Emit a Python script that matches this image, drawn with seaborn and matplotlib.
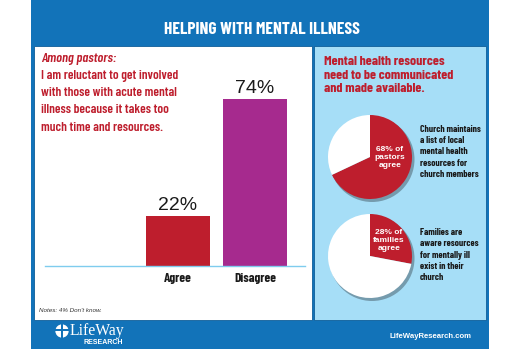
import matplotlib
matplotlib.use("Agg")
import matplotlib.pyplot as plt
from matplotlib import font_manager
from matplotlib.patches import Rectangle, Circle
import seaborn as sns
import pandas as pd

# ---- data ----
title = "HELPING WITH MENTAL ILLNESS"
bar_categories = ["Agree", "Disagree"]
bar_values = [22, 74]
bar_colors = ["#BE1E2D", "#A62A8E"]

pie_values = [68, 28]
pie_labels = ["68% of\npastors\nagree", "28% of\nfamilies\nagree"]
pie_captions = ["Church maintains\na list of local\nmental health\nresources for\nchurch members",
                "Families are\naware resources\nfor mentally ill\nexist in their\nchurch"]

question_intro = "Among pastors:"
question_text = ("I am reluctant to get involved\nwith those with acute mental\n"
                 "illness because it takes too\nmuch time and resources.")
right_heading = "Mental health resources\nneed to be communicated\nand made available."
notes = "Notes: 4% Don't know."
site = "LifeWayResearch.com"

# ---- styling ----
sns.set_theme(style="white")
installed = {f.name for f in font_manager.fontManager.ttflist}


def pick(*names):
    for n in names:
        if n in installed:
            return [n, "DejaVu Sans"]
    return ["DejaVu Sans"]


COND = pick("Barlow Condensed", "Roboto Condensed", "Archivo Narrow", "PT Sans Narrow",
            "Liberation Sans Narrow")
SANS = pick("Liberation Sans", "Arimo", "DejaVu Sans")
plt.rcParams["font.family"] = SANS

BLUE = "#1273B9"
LIGHT = "#A6DEF7"
RED = "#BE1E2D"

W, H = 520, 350
fig = plt.figure(figsize=(W / 100, H / 100), dpi=100)
fig.patch.set_facecolor("white")


def fx(px):
    return px / W


def fy(py):
    return 1 - py / H


def frect(x0, y0, x1, y1, z, **kw):
    fig.patches.append(Rectangle((fx(x0), fy(y1)), fx(x1 - x0), (y1 - y0) / H,
                                 transform=fig.transFigure, zorder=z, **kw))


# frame and panels (drawn beneath the axes)
frect(31, 0, 489, 349, -3, facecolor=BLUE, edgecolor="none")
frect(34, 46, 312, 320, -2, facecolor="white", edgecolor="#0F5E99", linewidth=0.6)
frect(314, 46, 486, 320, -2, facecolor=LIGHT, edgecolor="#0F5E99", linewidth=0.6)

fig.text(fx(262), fy(29), title, color="white", fontsize=12.5, fontweight="bold",
         family=COND, ha="center", va="center")

# left panel text
fig.text(fx(41), fy(59), question_intro, color=RED, fontsize=10, fontstyle="italic",
         fontweight="semibold", family=COND, ha="left", va="center")
fig.text(fx(41), fy(70), question_text, color=RED, fontsize=9.5, fontweight="semibold",
         family=COND, ha="left", va="top", linespacing=1.58)
fig.text(fx(39), fy(310), notes, color="#333333", fontsize=4.5, fontstyle="italic",
         ha="left", va="center")

# ---- bar chart ----
df = pd.DataFrame({"answer": bar_categories, "pct": bar_values})
ax_left, ax_right, base_y, top_y = 45, 305, 266, 80
ax = fig.add_axes([fx(ax_left), fy(base_y), fx(ax_right - ax_left), (base_y - top_y) / H])
ax.set_facecolor("none")
sns.barplot(data=df, x="answer", y="pct", hue="answer", palette=bar_colors,
            width=0.82, legend=False, ax=ax, saturation=1, edgecolor="none")
px_per_unit = 77
ax.set_xlim(-(178 - ax_left) / px_per_unit, 1 + (ax_right - 255) / px_per_unit)
ax.set_ylim(0, (base_y - top_y) / 2.26)
for s in ["top", "left", "right"]:
    ax.spines[s].set_visible(False)
ax.spines["bottom"].set_color("#7FCCEE")
ax.spines["bottom"].set_linewidth(1)
ax.set_yticks([])
ax.set_xlabel("")
ax.set_ylabel("")
ax.tick_params(axis="x", length=0, pad=5)
for lbl in ax.get_xticklabels():
    lbl.set_fontfamily(COND)
    lbl.set_fontweight("bold")
    lbl.set_fontsize(9.5)
    lbl.set_color("#1a1a1a")
for i, v in enumerate(bar_values):
    ax.text(i, v + 1.0, f"{v}%", ha="center", va="bottom", fontsize=14,
            color="#1a1a1a")

# ---- right panel ----
fig.text(fx(324), fy(56), right_heading, color=RED, fontsize=10, fontweight="bold",
         family=COND, ha="left", va="top", linespacing=1.3)

pie_centers = [(370, 157), (370, 256)]
radius_px = 42
text_pos = [(390, 157), (389, 240)]
cap_pos = [(420, 152), (420, 255)]
for val, lab, cap, (cx, cy), (tx, ty), (kx, ky) in zip(pie_values, pie_labels, pie_captions,
                                                     pie_centers, text_pos, cap_pos):
    size = radius_px * 2 + 8
    pax = fig.add_axes([fx(cx - size / 2), fy(cy + size / 2), fx(size), size / H])
    pax.axis("off")
    pax.add_patch(Circle((2.0, -2.5), radius_px + 0.5, facecolor="#4d6470",
                         edgecolor="none", alpha=0.55, zorder=0))
    pax.pie([val, 100 - val], colors=[RED, "white"], startangle=90, counterclock=False,
            radius=radius_px, center=(0, 0), frame=False,
            wedgeprops=dict(linewidth=0))
    pax.set_xlim(-size / 2, size / 2)
    pax.set_ylim(-size / 2, size / 2)
    pax.set_aspect("equal")
    fig.text(fx(tx), fy(ty), lab, color="white", fontsize=6, fontweight="bold",
             ha="center", va="center", linespacing=1.2)
    fig.text(fx(kx), fy(ky), cap, color="#1a1a1a", fontsize=6.9, fontweight="bold",
             family=COND, ha="left", va="center", linespacing=1.3)

# ---- footer ----
logo = fig.add_axes([fx(55), fy(338), fx(14), 14 / H])
logo.axis("off")
logo.add_patch(Circle((0, 0), 0.95, facecolor="white", edgecolor="none"))
logo.add_patch(Rectangle((-0.15, -0.95), 0.3, 1.9, facecolor=BLUE, edgecolor="none"))
logo.add_patch(Rectangle((-0.95, 0.05), 1.9, 0.28, facecolor=BLUE, edgecolor="none"))
logo.set_xlim(-1, 1)
logo.set_ylim(-1, 1)
logo.set_aspect("equal")
fig.text(fx(70), fy(331), "LifeWay", color="white", fontsize=11.3,
         family=["Liberation Serif", "DejaVu Serif"], ha="left", va="center")
fig.text(fx(83), fy(343), "RESEARCH", color="white", fontsize=5, fontweight="bold",
         ha="left", va="center")
fig.text(fx(472), fy(337), site, color="white", fontsize=5.6, fontweight="bold",
         ha="right", va="center")

fig.savefig("out.png", dpi=100, facecolor="white")
